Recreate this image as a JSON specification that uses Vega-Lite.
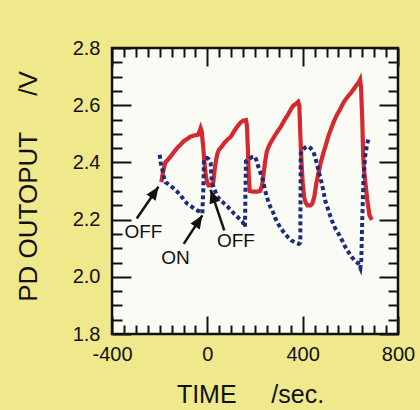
{
  "$schema": "https://vega.github.io/schema/vega-lite/v6.json",
  "width": 286,
  "height": 286,
  "autosize": "none",
  "padding": {"left": 112, "top": 48, "right": 22, "bottom": 76},
  "background": "#F0E98C",
  "view": {"fill": "#FBFBF6", "stroke": "#111111", "strokeWidth": 2.5},
  "config": {
    "font": "Liberation Sans",
    "axis": {"grid": false, "domain": false, "tickColor": "#111111", "tickWidth": 2, "labelColor": "#111111", "titleColor": "#111111", "labelFont": "Liberation Sans", "titleFont": "Liberation Sans"}
  },
  "resolve": {"axis": {"x": "independent", "y": "independent"}},
  "datasets": {
    "red": [
      {"t": -193, "v": 2.331}, {"t": -185, "v": 2.37}, {"t": -176, "v": 2.40}, {"t": -165, "v": 2.41},
      {"t": -155, "v": 2.42}, {"t": -141, "v": 2.435}, {"t": -127, "v": 2.45}, {"t": -113, "v": 2.462},
      {"t": -99, "v": 2.474}, {"t": -85, "v": 2.482}, {"t": -71, "v": 2.49}, {"t": -55, "v": 2.494},
      {"t": -40, "v": 2.496}, {"t": -32, "v": 2.51}, {"t": -28, "v": 2.52}, {"t": -24, "v": 2.51},
      {"t": -18, "v": 2.46}, {"t": -12, "v": 2.40}, {"t": -6, "v": 2.35}, {"t": 0, "v": 2.33},
      {"t": 5, "v": 2.32}, {"t": 15, "v": 2.32}, {"t": 25, "v": 2.33}, {"t": 30, "v": 2.37},
      {"t": 35, "v": 2.40}, {"t": 42, "v": 2.43}, {"t": 49, "v": 2.445}, {"t": 60, "v": 2.455},
      {"t": 71, "v": 2.468}, {"t": 85, "v": 2.48}, {"t": 99, "v": 2.49}, {"t": 113, "v": 2.51},
      {"t": 127, "v": 2.527}, {"t": 140, "v": 2.54}, {"t": 150, "v": 2.546}, {"t": 162, "v": 2.548},
      {"t": 166, "v": 2.53}, {"t": 170, "v": 2.45}, {"t": 174, "v": 2.35}, {"t": 178, "v": 2.30},
      {"t": 190, "v": 2.298}, {"t": 210, "v": 2.298}, {"t": 222, "v": 2.30}, {"t": 230, "v": 2.32},
      {"t": 236, "v": 2.36}, {"t": 242, "v": 2.40}, {"t": 250, "v": 2.44}, {"t": 261, "v": 2.462},
      {"t": 270, "v": 2.475}, {"t": 282, "v": 2.492}, {"t": 296, "v": 2.51}, {"t": 310, "v": 2.527},
      {"t": 325, "v": 2.55}, {"t": 339, "v": 2.568}, {"t": 350, "v": 2.585}, {"t": 360, "v": 2.598},
      {"t": 372, "v": 2.605}, {"t": 381, "v": 2.612}, {"t": 386, "v": 2.60}, {"t": 390, "v": 2.50},
      {"t": 395, "v": 2.40}, {"t": 400, "v": 2.33}, {"t": 406, "v": 2.28}, {"t": 412, "v": 2.26},
      {"t": 420, "v": 2.25}, {"t": 432, "v": 2.25}, {"t": 440, "v": 2.255}, {"t": 449, "v": 2.28},
      {"t": 458, "v": 2.33}, {"t": 466, "v": 2.362}, {"t": 476, "v": 2.40}, {"t": 487, "v": 2.433},
      {"t": 497, "v": 2.46}, {"t": 508, "v": 2.492}, {"t": 518, "v": 2.515}, {"t": 529, "v": 2.539},
      {"t": 543, "v": 2.565}, {"t": 557, "v": 2.586}, {"t": 572, "v": 2.61}, {"t": 586, "v": 2.627},
      {"t": 600, "v": 2.64}, {"t": 614, "v": 2.656}, {"t": 624, "v": 2.668}, {"t": 635, "v": 2.68},
      {"t": 641, "v": 2.69}, {"t": 645, "v": 2.66}, {"t": 650, "v": 2.55}, {"t": 654, "v": 2.42},
      {"t": 658, "v": 2.37}, {"t": 663, "v": 2.33}, {"t": 671, "v": 2.27}, {"t": 680, "v": 2.216},
      {"t": 690, "v": 2.199}
    ],
    "blue": [
      {"t": -200, "v": 2.427}, {"t": -196, "v": 2.40}, {"t": -190, "v": 2.38}, {"t": -183, "v": 2.35},
      {"t": -175, "v": 2.33}, {"t": -169, "v": 2.327}, {"t": -155, "v": 2.318}, {"t": -141, "v": 2.309},
      {"t": -127, "v": 2.298}, {"t": -113, "v": 2.286}, {"t": -99, "v": 2.27}, {"t": -85, "v": 2.256},
      {"t": -70, "v": 2.248}, {"t": -56, "v": 2.239}, {"t": -42, "v": 2.232}, {"t": -28, "v": 2.227},
      {"t": -21, "v": 2.222}, {"t": -17, "v": 2.30}, {"t": -14, "v": 2.41}, {"t": -7, "v": 2.415},
      {"t": 0, "v": 2.415}, {"t": 7, "v": 2.41}, {"t": 14, "v": 2.398}, {"t": 17, "v": 2.35},
      {"t": 21, "v": 2.327}, {"t": 28, "v": 2.31}, {"t": 35, "v": 2.295}, {"t": 42, "v": 2.28},
      {"t": 56, "v": 2.268}, {"t": 71, "v": 2.256}, {"t": 85, "v": 2.245}, {"t": 99, "v": 2.233},
      {"t": 113, "v": 2.22}, {"t": 127, "v": 2.209}, {"t": 140, "v": 2.198}, {"t": 148, "v": 2.192},
      {"t": 155, "v": 2.178}, {"t": 158, "v": 2.174}, {"t": 160, "v": 2.30}, {"t": 162, "v": 2.404},
      {"t": 172, "v": 2.41}, {"t": 181, "v": 2.415}, {"t": 190, "v": 2.42}, {"t": 198, "v": 2.421},
      {"t": 205, "v": 2.41}, {"t": 212, "v": 2.39}, {"t": 219, "v": 2.374}, {"t": 226, "v": 2.355},
      {"t": 233, "v": 2.339}, {"t": 243, "v": 2.30}, {"t": 254, "v": 2.268}, {"t": 264, "v": 2.245},
      {"t": 275, "v": 2.227}, {"t": 285, "v": 2.205}, {"t": 296, "v": 2.186}, {"t": 310, "v": 2.168},
      {"t": 325, "v": 2.151}, {"t": 339, "v": 2.138}, {"t": 353, "v": 2.127}, {"t": 368, "v": 2.12},
      {"t": 384, "v": 2.115}, {"t": 390, "v": 2.12}, {"t": 392, "v": 2.433}, {"t": 400, "v": 2.445},
      {"t": 409, "v": 2.451}, {"t": 416, "v": 2.455}, {"t": 423, "v": 2.456}, {"t": 433, "v": 2.45},
      {"t": 444, "v": 2.439}, {"t": 452, "v": 2.42}, {"t": 459, "v": 2.398}, {"t": 470, "v": 2.36},
      {"t": 480, "v": 2.327}, {"t": 487, "v": 2.30}, {"t": 494, "v": 2.268}, {"t": 508, "v": 2.232},
      {"t": 522, "v": 2.198}, {"t": 536, "v": 2.17}, {"t": 550, "v": 2.151}, {"t": 565, "v": 2.128},
      {"t": 579, "v": 2.104}, {"t": 593, "v": 2.085}, {"t": 607, "v": 2.068}, {"t": 620, "v": 2.055},
      {"t": 633, "v": 2.047}, {"t": 642, "v": 2.03}, {"t": 646, "v": 2.06}, {"t": 650, "v": 2.2},
      {"t": 655, "v": 2.338}, {"t": 662, "v": 2.42}, {"t": 671, "v": 2.467}, {"t": 680, "v": 2.49}
    ],
    "arrows": [
      {"label": "OFF1", "t0": -296, "v0": 2.204, "t1": -205, "v1": 2.315},
      {"label": "ON", "t0": -99, "v0": 2.115, "t1": -21, "v1": 2.215},
      {"label": "OFF2", "t0": 71, "v0": 2.162, "t1": 14, "v1": 2.304}
    ],
    "labels": [
      {"text": "OFF", "t": -268, "v": 2.156},
      {"text": "ON", "t": -134, "v": 2.066},
      {"text": "OFF", "t": 120, "v": 2.124}
    ]
  },
  "layer": [
    {
      "data": {"name": "red"},
      "mark": {"type": "line", "color": "#D42A2F", "strokeWidth": 4.2, "strokeJoin": "miter"},
      "encoding": {
        "x": {"field": "t", "type": "quantitative", "scale": {"domain": [-400, 800], "nice": false, "zero": false},
          "axis": {"orient": "bottom", "values": [-400, 0, 400, 800], "labelExpr": "'' + datum.value", "ticks": false, "labelPadding": 10, "labelFontSize": 20, "labelFlush": false,
            "title": "TIME\u00a0\u00a0\u00a0\u00a0\u00a0/sec.", "titleFontSize": 25, "titleFontWeight": "normal", "titleX": 138, "titleY": 68, "titleBaseline": "alphabetic", "titleAnchor": "middle"}},
        "y": {"field": "v", "type": "quantitative", "scale": {"domain": [1.8, 2.8], "nice": false, "zero": false},
          "axis": {"orient": "left", "values": [1.8, 2.0, 2.2, 2.4, 2.6, 2.8], "format": ".1f", "ticks": false, "labelPadding": 12, "labelFontSize": 20, "labelFlush": false,
            "title": "PD OUTOPUT\u00a0\u00a0\u00a0\u00a0\u00a0/V", "titleFontSize": 26, "titleFontWeight": "normal", "titleX": -76, "titleY": 138, "titleBaseline": "alphabetic", "titleAlign": "center", "titleAngle": -90}}
      }
    },
    {
      "data": {"name": "blue"},
      "mark": {"type": "line", "color": "#1C2B7A", "strokeWidth": 4, "strokeDash": [4, 3]},
      "encoding": {
        "x": {"field": "t", "type": "quantitative",
          "axis": {"orient": "bottom", "values": [-400, 0, 400, 800], "labels": false, "tickSize": -18, "title": null}},
        "y": {"field": "v", "type": "quantitative",
          "axis": {"orient": "left", "values": [1.8, 2.0, 2.2, 2.4, 2.6, 2.8], "labels": false, "tickSize": -19, "title": null}}
      }
    },
    {
      "data": {"name": "arrows"},
      "mark": {"type": "rule", "color": "#111111", "strokeWidth": 2.5},
      "encoding": {
        "x": {"field": "t0", "type": "quantitative",
          "axis": {"orient": "bottom", "values": [-350, -300, -250, -200, -150, -100, -50, 50, 100, 150, 200, 250, 300, 350, 450, 500, 550, 600, 650, 700, 750], "labels": false, "tickSize": -9, "title": null}},
        "y": {"field": "v0", "type": "quantitative",
          "axis": {"orient": "left", "values": [1.85, 1.9, 1.95, 2.05, 2.1, 2.15, 2.25, 2.3, 2.35, 2.45, 2.5, 2.55, 2.65, 2.7, 2.75], "labels": false, "tickSize": -10, "title": null}},
        "x2": {"field": "t1"},
        "y2": {"field": "v1"}
      }
    },
    {
      "data": {"name": "labels"},
      "mark": {"type": "text", "font": "Liberation Sans", "fontSize": 19, "color": "#111111", "align": "center", "baseline": "middle"},
      "encoding": {
        "x": {"field": "t", "type": "quantitative",
          "axis": {"orient": "top", "values": [-400, 0, 400, 800], "labels": false, "tickSize": -18, "title": null}},
        "y": {"field": "v", "type": "quantitative",
          "axis": {"orient": "right", "values": [1.8, 2.0, 2.2, 2.4, 2.6, 2.8], "labels": false, "tickSize": -19, "title": null}},
        "text": {"field": "text"}
      }
    },
    {
      "data": {"name": "arrows"},
      "transform": [{"filter": "datum.label === 'OFF1'"}],
      "mark": {"type": "point", "shape": "M0,0L0.42,1L-0.42,1Z", "filled": true, "color": "#111111", "opacity": 1, "size": 700, "angle": 34},
      "encoding": {
        "x": {"field": "t1", "type": "quantitative",
          "axis": {"orient": "top", "values": [-350, -300, -250, -200, -150, -100, -50, 50, 100, 150, 200, 250, 300, 350, 450, 500, 550, 600, 650, 700, 750], "labels": false, "tickSize": -9, "title": null}},
        "y": {"field": "v1", "type": "quantitative",
          "axis": {"orient": "right", "values": [1.85, 1.9, 1.95, 2.05, 2.1, 2.15, 2.25, 2.3, 2.35, 2.45, 2.5, 2.55, 2.65, 2.7, 2.75], "labels": false, "tickSize": -10, "title": null}}
      }
    },
    {
      "data": {"name": "arrows"},
      "transform": [{"filter": "datum.label === 'ON'"}],
      "mark": {"type": "point", "shape": "M0,0L0.42,1L-0.42,1Z", "filled": true, "color": "#111111", "opacity": 1, "size": 700, "angle": 33},
      "encoding": {
        "x": {"field": "t1", "type": "quantitative", "axis": null},
        "y": {"field": "v1", "type": "quantitative", "axis": null}
      }
    },
    {
      "data": {"name": "arrows"},
      "transform": [{"filter": "datum.label === 'OFF2'"}],
      "mark": {"type": "point", "shape": "M0,0L0.42,1L-0.42,1Z", "filled": true, "color": "#111111", "opacity": 1, "size": 700, "angle": 341.5},
      "encoding": {
        "x": {"field": "t1", "type": "quantitative", "axis": null},
        "y": {"field": "v1", "type": "quantitative", "axis": null}
      }
    }
  ]
}
